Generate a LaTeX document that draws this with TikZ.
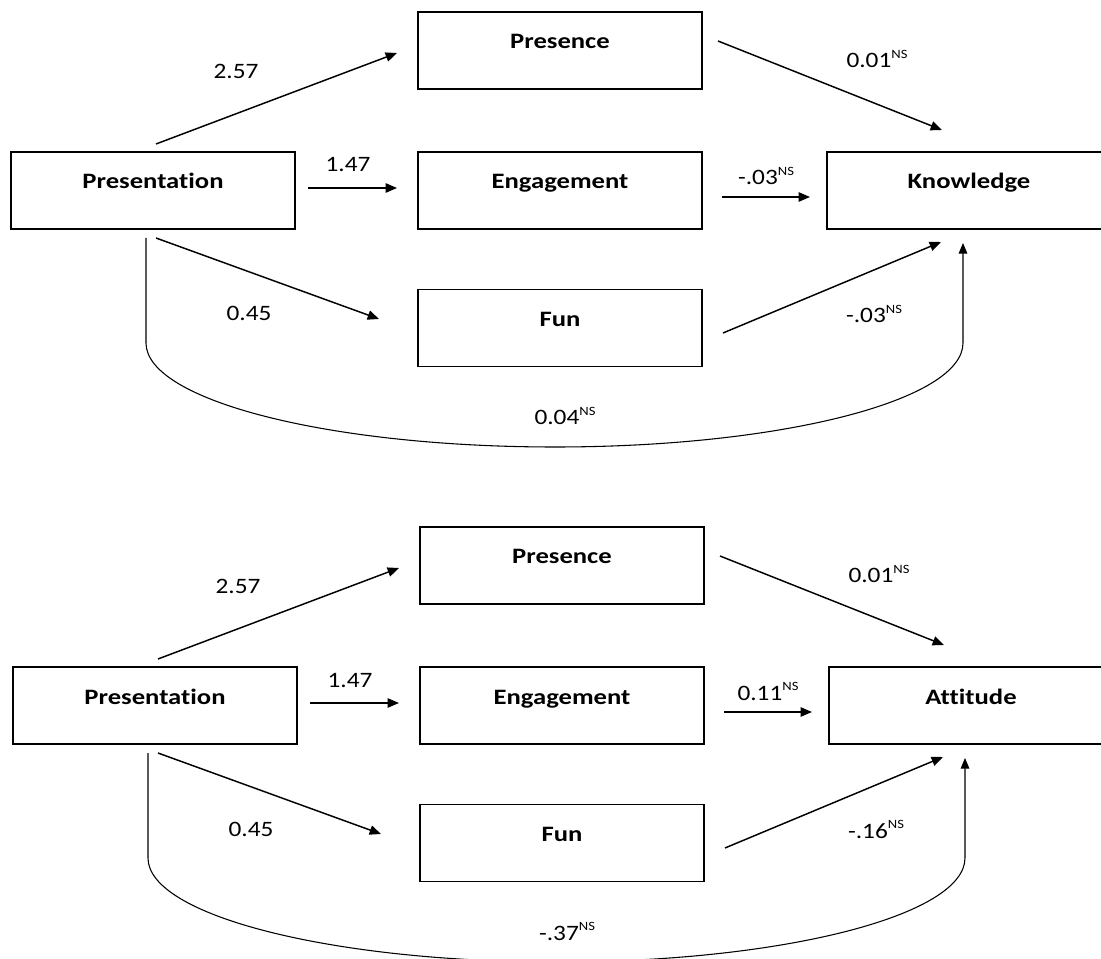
\documentclass[tikz,border=0pt]{standalone}
\usepackage{fontspec}
\setmainfont{Carlito}[FakeStretch=1.15, Ligatures=NoCommon, BoldFeatures={FakeStretch=1.21}]
\usetikzlibrary{arrows.meta}
\newcommand\nsup{\raisebox{0.42em}{\fontsize{9.5}{10}\selectfont NS}}
\newcommand\pathdiagram[4]{%
  \node[box] (presentation) at (153,190.5) {Presentation};
  \node[box] (presence) at (560,50.5) {Presence};
  \node[box] (engagement) at (560,190.5) {Engagement};
  \node[box] (fun) at (560,328) {Fun};
  \node[box] (outcome) at (969,190.5) {#1};
  % connector end points
  \coordinate (a1s) at (156,144); \coordinate (a1e) at (397,53);
  \coordinate (a2s) at (308,188); \coordinate (a2e) at (397,188);
  \coordinate (a3s) at (156,238); \coordinate (a3e) at (379,319);
  \coordinate (a4s) at (718,41);  \coordinate (a4e) at (942,130);
  \coordinate (a5s) at (722,197); \coordinate (a5e) at (810,197);
  \coordinate (a6s) at (723,333); \coordinate (a6e) at (941,242);
  \coordinate (cs) at (146,238);  \coordinate (cl) at (146,343);
  \coordinate (cb) at (555,447);  \coordinate (cr) at (963,343);
  \coordinate (ce) at (963,243);
  \draw[arr] (a1s) -- (a1e);
  \draw[arr] (a2s) -- (a2e);
  \draw[arr] (a3s) -- (a3e);
  \draw[arr] (a4s) -- (a4e);
  \draw[arr] (a5s) -- (a5e);
  \draw[arr] (a6s) -- (a6e);
  \draw[curvearr] (cs) -- (cl) .. controls (146,400.4) and (329,447) .. (cb)
        .. controls (781,447) and (963,400.4) .. (cr) -- (ce);
  % labels
  \node[lbl] (l1) at (236,79) {2.57};
  \node[lbl] (l2) at (348,172) {1.47};
  \node[lbl] (l3) at (249,321) {0.45};
  \node[lbl] (l4) at (877,68) {0.01\nsup};
  \node[lbl] (l5) at (766,185) {#2\nsup};
  \node[lbl] (l6) at (874,323) {#3\nsup};
  \node[lbl] (l7) at (565,425) {#4\nsup};
}
\begin{document}
\begin{tikzpicture}[x=0.75pt,y=-0.75pt,
  font=\fontsize{16.5}{20}\selectfont,
  box/.style={draw, line width=1.3pt, minimum width=213pt, minimum height=57.75pt,
    inner sep=0pt, font=\fontsize{16.5}{20}\selectfont\bfseries,
    text height=10.5pt, text depth=12.75pt},
  arr/.style={line width=1.1pt, -{Triangle[length=8.5pt,width=7pt]}},
  curvearr/.style={line width=0.8pt, -{Triangle[length=8pt,width=6.5pt]}},
  lbl/.style={anchor=base, inner sep=0pt}]
\useasboundingbox (0,0) rectangle (1101,959);
\fill[white] (0,0) rectangle (1101,959);
\begin{scope}[name prefix=top-]
  \pathdiagram{Knowledge}{-.03}{-.03}{0.04}
\end{scope}
\begin{scope}[shift={(2,515)}, name prefix=bot-]
  \pathdiagram{Attitude}{0.11}{-.16}{-.37}
\end{scope}
\end{tikzpicture}
\end{document}
